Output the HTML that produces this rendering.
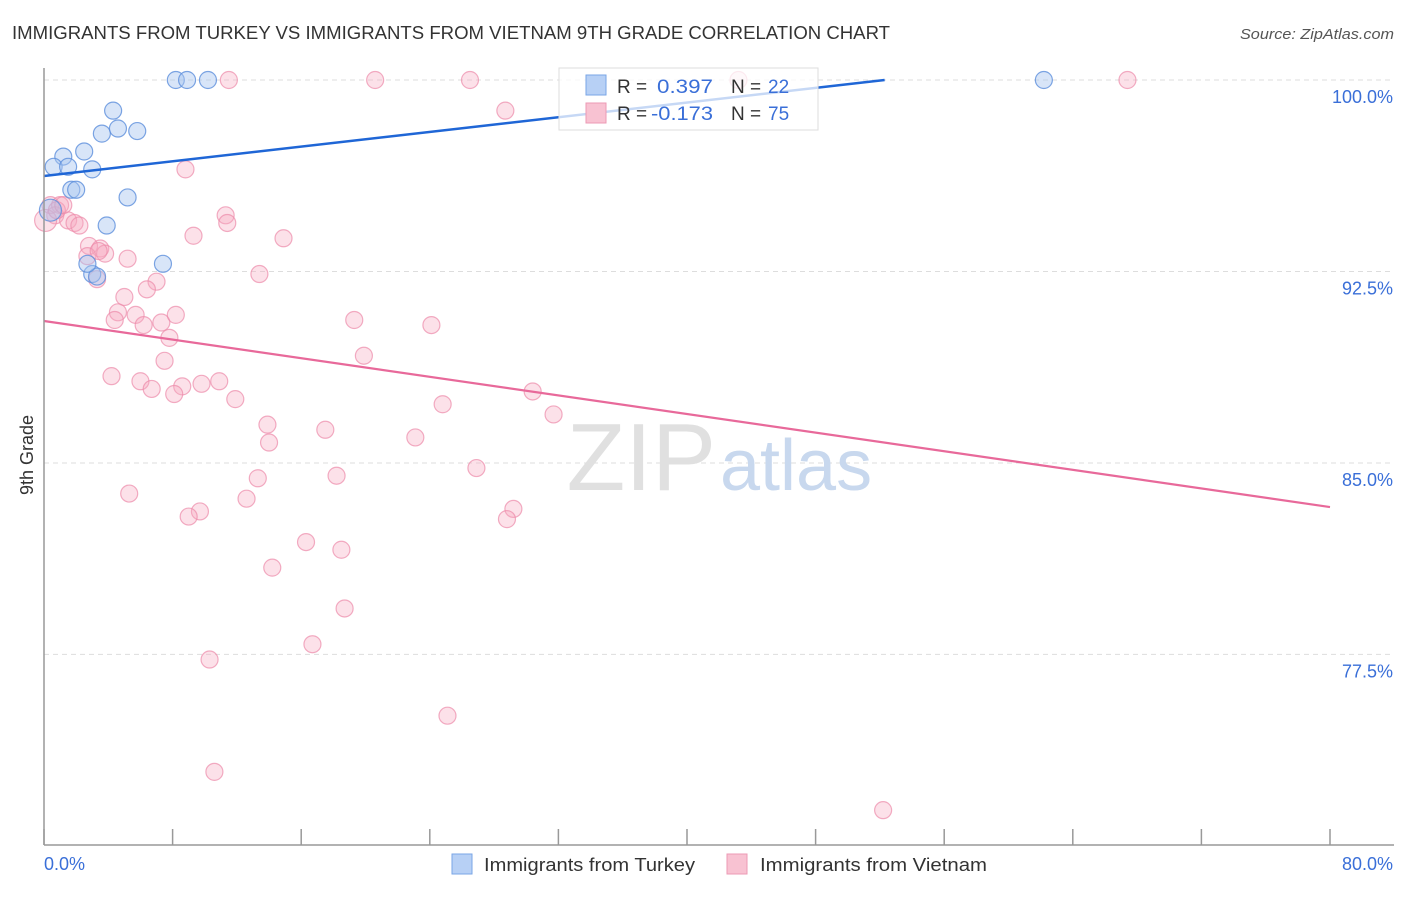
<!DOCTYPE html>
<html><head><meta charset="utf-8"><style>
body{margin:0;background:#fff;font-family:"Liberation Sans",sans-serif;}
svg text{font-family:"Liberation Sans",sans-serif;}
</style></head><body>
<svg width="1406" height="892" xmlns="http://www.w3.org/2000/svg">
<text x="12" y="39" font-size="18" fill="#333" textLength="878" lengthAdjust="spacingAndGlyphs">IMMIGRANTS FROM TURKEY VS IMMIGRANTS FROM VIETNAM 9TH GRADE CORRELATION CHART</text>
<text x="1240" y="39" font-size="15" fill="#555" font-style="italic" textLength="154" lengthAdjust="spacingAndGlyphs">Source: ZipAtlas.com</text>
<g id="grid"></g>
<text x="716" y="490" font-size="96" font-family="Liberation Serif" fill="#e0e0e0" text-anchor="end">ZIP</text>
<text x="720" y="490" font-size="72" fill="#c8d8ee">atlas</text>
<g id="pts"></g>
<g id="lines"></g>
<line x1="44" y1="68" x2="44" y2="845" stroke="#999" stroke-width="1.5"/>
<line x1="44" y1="845" x2="1394" y2="845" stroke="#999" stroke-width="1.5"/>
<g id="ticks"></g>
<text x="33" y="455" font-size="18" fill="#333" text-anchor="middle" transform="rotate(-90 33 455)">9th Grade</text>
<text x="44" y="870" font-size="18" fill="#3a6fd8">0.0%</text>
<text x="1393" y="870" font-size="18" fill="#3a6fd8" text-anchor="end">80.0%</text>
<g>
<rect x="559" y="68" width="259" height="62" fill="#fff" fill-opacity="0.75" stroke="#ddd"/>
<rect x="586" y="75" width="20" height="20" fill="#b7d0f5" stroke="#7aa6e6"/>
<rect x="586" y="103" width="20" height="20" fill="#f8c2d2" stroke="#ec9ab4"/>
<text font-size="19" fill="#333" y="93"><tspan x="617">R =</tspan><tspan fill="#3a6fd8" x="657" textLength="56" lengthAdjust="spacingAndGlyphs">0.397</tspan><tspan x="731">N =</tspan><tspan fill="#3a6fd8" x="768">22</tspan></text>
<text font-size="19" fill="#333" y="120"><tspan x="617">R =</tspan><tspan fill="#3a6fd8" x="651" textLength="62" lengthAdjust="spacingAndGlyphs">-0.173</tspan><tspan x="731">N =</tspan><tspan fill="#3a6fd8" x="768">75</tspan></text>
</g>
<g>
<rect x="452" y="854" width="20" height="20" fill="#b7d0f5" stroke="#7aa6e6"/>
<text x="484" y="871" font-size="18" fill="#333" textLength="211" lengthAdjust="spacingAndGlyphs">Immigrants from Turkey</text>
<rect x="727" y="854" width="20" height="20" fill="#f8c2d2" stroke="#ec9ab4"/>
<text x="760" y="871" font-size="18" fill="#333" textLength="227" lengthAdjust="spacingAndGlyphs">Immigrants from Vietnam</text>
</g>
</svg>
<script>
const yTicks=[100,92.5,85,77.5];
const yTickLabels=["100.0%","92.5%","85.0%","77.5%"];
const xTicks=[0,8,16,24,32,40,48,56,64,72,80];
const turkeyX=[8.2,8.9,10.2,62.2,4.3,3.6,4.6,5.8,2.5,1.2,0.6,1.5,3.0,1.7,2.0,5.2,3.9,7.4,3.0,3.3,2.7,0.4];
const turkeyY=[100,100,100,100,98.8,97.9,98.1,98.0,97.2,97.0,96.6,96.6,96.5,95.7,95.7,95.4,94.3,92.8,92.4,92.3,92.8,94.9];
const vietX=[11.5,20.6,26.5,43.2,67.4,28.7,8.8,11.3,11.4,9.3,14.9,0.4,1.0,0.7,1.5,1.9,2.2,2.8,3.5,3.8,2.7,5.2,3.3,13.4,7.0,6.4,5.0,4.6,4.4,5.7,6.2,7.3,8.2,19.3,24.1,7.8,19.9,7.5,4.2,6.0,6.7,8.6,8.1,9.8,10.9,11.9,30.4,24.8,31.7,13.9,14.0,17.5,23.1,26.9,18.2,13.3,5.3,12.6,9.7,9.0,29.2,28.8,16.3,18.5,14.2,18.7,16.7,10.3,25.1,10.6,52.2,0.1,0.8,1.2,3.4];
const vietY=[100,100,100,100,100,98.8,96.5,94.7,94.4,93.9,93.8,95.1,95.1,94.7,94.5,94.4,94.3,93.5,93.4,93.2,93.1,93.0,92.2,92.4,92.1,91.8,91.5,90.9,90.6,90.8,90.4,90.5,90.8,90.6,90.4,89.9,89.2,89.0,88.4,88.2,87.9,88.0,87.7,88.1,88.2,87.5,87.8,87.3,86.9,86.5,85.8,86.3,86.0,84.8,84.5,84.4,83.8,83.6,83.1,82.9,83.2,82.8,81.9,81.6,80.9,79.3,77.9,77.3,75.1,72.9,71.4,94.5,94.9,95.1,93.3];
const turkeyLine=[96.24,0.0719];
const vietLine=[90.56,-0.0911];
const NS="http://www.w3.org/2000/svg";
const X=v=>44+v*16.075, Y=v=>80+(100-v)*25.53;
function mk(t,a,p){const e=document.createElementNS(NS,t);for(const k in a)e.setAttribute(k,a[k]);p.appendChild(e);return e;}
const grid=document.getElementById('grid');
yTicks.forEach((v,i)=>{
 const l=mk('line',{x1:44,x2:1394,y1:Y(v),y2:Y(v),stroke:'#ddd','stroke-dasharray':'5,4'},grid);
 
 
 const t=mk('text',{x:1393,y:Y(v)+23,'font-size':18,fill:'#3a6fd8','text-anchor':'end'},grid);
 t.textContent=yTickLabels[i];
 
 
});
const ticks=document.getElementById('ticks');
xTicks.forEach(v=>{
 const l=mk('line',{x1:X(v),x2:X(v),y1:829,y2:845,stroke:'#999','stroke-width':1.5},ticks);
 
 
});
const pts=document.getElementById('pts');
vietX.forEach((x,i)=>{
 const c=mk('circle',{cx:X(x),cy:Y(vietY[i]),r:i==71?11:8.5,fill:'#f5a9c0','fill-opacity':0.35,stroke:'#ec8aaa','stroke-opacity':0.7,'stroke-width':1.2},pts);
 
 
});
turkeyX.forEach((x,i)=>{
 const c=mk('circle',{cx:X(x),cy:Y(turkeyY[i]),r:i==21?11:8.5,fill:'#a9c6f0','fill-opacity':0.45,stroke:'#5c8fdc','stroke-opacity':0.8,'stroke-width':1.2},pts);
 
 
});
const lines=document.getElementById('lines');
const tEnd=Math.min(80,(100-turkeyLine[0])/turkeyLine[1]);
const l1=mk('line',{x1:X(0),y1:Y(turkeyLine[0]),x2:X(tEnd),y2:Y(turkeyLine[0]+turkeyLine[1]*tEnd),stroke:'#1f66d6','stroke-width':2.5},lines);


const l2=mk('line',{x1:X(0),y1:Y(vietLine[0]),x2:X(80),y2:Y(vietLine[0]+vietLine[1]*80),stroke:'#e8699a','stroke-width':2.2},lines);


</script>
</body></html>
